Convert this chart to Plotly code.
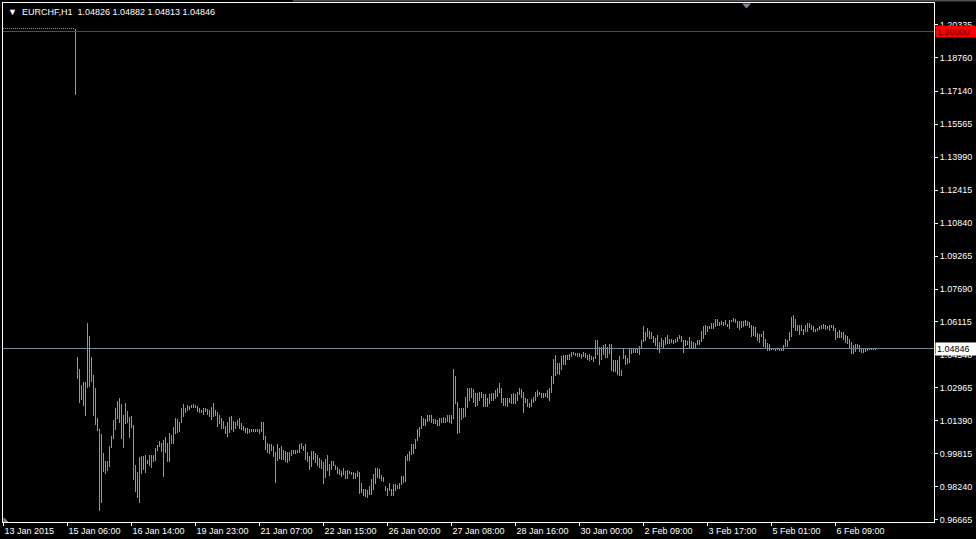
import plotly.graph_objects as go

# ---------------- data (EURCHF, H1 bars) ----------------
tick_labels = ["13 Jan 2015", "15 Jan 06:00", "16 Jan 14:00", "19 Jan 23:00", "21 Jan 07:00",
               "22 Jan 15:00", "26 Jan 00:00", "27 Jan 08:00", "28 Jan 16:00", "30 Jan 00:00",
               "2 Feb 09:00", "3 Feb 17:00", "5 Feb 01:00", "6 Feb 09:00"]
bars_per_label = 32

price_ticks = [1.20335, 1.18760, 1.17140, 1.15565, 1.13990, 1.12415, 1.10840, 1.09265,
               1.07690, 1.06115, 1.04540, 1.02965, 1.01390, 0.99815, 0.98240, 0.96665]

last_ohlc = [1.04826, 1.04882, 1.04813, 1.04846]
hline_level = 1.20000

highs = [1.2015] * 36 + [1.2013] + [
    1.0444, 1.0385, 1.0308, 1.0324, 1.0324, 1.0607, 1.0543, 1.0444, 1.0356, 1.0298,
    1.0151, 1.0102, 1.0078, 0.9986, 0.9948, 0.9948, 1.0020, 1.0068, 1.0145, 1.0199,
    1.0236, 1.0250, 1.0217, 1.0169, 1.0226, 1.0188, 1.0156, 1.0164, 1.0121, 0.9929,
    0.9895, 0.9967, 0.9972, 0.9972, 0.9977, 0.9954, 0.9977, 0.9974, 0.9977, 1.0010,
    1.0025, 1.0044, 1.0034, 1.0046, 1.0063, 1.0034, 1.0081, 1.0073, 1.0111, 1.0151,
    1.0148, 1.0134, 1.0198, 1.0217, 1.0199, 1.0215, 1.0210, 1.0215, 1.0217, 1.0214,
    1.0210, 1.0202, 1.0193, 1.0198, 1.0198, 1.0194, 1.0190, 1.0207, 1.0222, 1.0193,
    1.0183, 1.0169, 1.0154, 1.0140, 1.0116, 1.0132, 1.0159, 1.0164, 1.0140, 1.0135,
    1.0145, 1.0154, 1.0130, 1.0114, 1.0105, 1.0106, 1.0102, 1.0102, 1.0102, 1.0102,
    1.0102, 1.0102, 1.0135, 1.0135, 1.0068, 1.0034, 1.0030, 1.0030, 1.0020, 0.9990,
    1.0030, 1.0007, 1.0020, 1.0001, 0.9993, 0.9991, 0.9991, 1.0001, 1.0001, 1.0001,
    1.0001, 1.0030, 1.0034, 1.0020, 1.0030, 0.9991, 0.9972, 0.9996, 0.9996, 0.9986,
    0.9977, 0.9962, 0.9953, 0.9943, 0.9958, 0.9977, 0.9934, 0.9948, 0.9948, 0.9926,
    0.9919, 0.9910, 0.9900, 0.9914, 0.9900, 0.9905, 0.9900, 0.9895, 0.9895, 0.9890,
    0.9900, 0.9895, 0.9842, 0.9814, 0.9814, 0.9809, 0.9828, 0.9862, 0.9886, 0.9914,
    0.9914, 0.9910, 0.9881, 0.9871, 0.9828, 0.9818, 0.9842, 0.9814, 0.9838, 0.9838,
    0.9833, 0.9842, 0.9876, 0.9876, 0.9969, 0.9982, 0.9996, 1.0030, 1.0030, 1.0054,
    1.0102, 1.0111, 1.0164, 1.0154, 1.0150, 1.0169, 1.0169, 1.0169, 1.0150, 1.0150,
    1.0145, 1.0154, 1.0154, 1.0159, 1.0154, 1.0169, 1.0169, 1.0169, 1.0385, 1.0351,
    1.0231, 1.0198, 1.0198, 1.0202, 1.0255, 1.0298, 1.0298, 1.0298, 1.0289, 1.0270,
    1.0270, 1.0279, 1.0279, 1.0265, 1.0265, 1.0246, 1.0265, 1.0274, 1.0270, 1.0284,
    1.0294, 1.0322, 1.0298, 1.0250, 1.0250, 1.0250, 1.0250, 1.0265, 1.0274, 1.0265,
    1.0279, 1.0294, 1.0289, 1.0279, 1.0246, 1.0241, 1.0222, 1.0241, 1.0255, 1.0279,
    1.0284, 1.0279, 1.0274, 1.0274, 1.0274, 1.0284, 1.0294, 1.0351, 1.0433, 1.0452,
    1.0414, 1.0414, 1.0447, 1.0452, 1.0452, 1.0452, 1.0457, 1.0466, 1.0466, 1.0462,
    1.0462, 1.0462, 1.0457, 1.0466, 1.0462, 1.0452, 1.0457, 1.0447, 1.0442, 1.0524,
    1.0524, 1.0490, 1.0490, 1.0500, 1.0505, 1.0490, 1.0505, 1.0505, 1.0428, 1.0428,
    1.0428, 1.0447, 1.0380, 1.0486, 1.0452, 1.0438, 1.0481, 1.0481, 1.0486, 1.0481,
    1.0481, 1.0495, 1.0524, 1.0591, 1.0562, 1.0582, 1.0567, 1.0562, 1.0543, 1.0534,
    1.0548, 1.0514, 1.0534, 1.0524, 1.0538, 1.0548, 1.0529, 1.0529, 1.0524, 1.0529,
    1.0538, 1.0548, 1.0543, 1.0524, 1.0524, 1.0519, 1.0538, 1.0519, 1.0514, 1.0509,
    1.0524, 1.0524, 1.0567, 1.0591, 1.0596, 1.0591, 1.0591, 1.0606, 1.0606, 1.0625,
    1.0625, 1.0610, 1.0615, 1.0610, 1.0620, 1.0601, 1.0620, 1.0620, 1.0630, 1.0625,
    1.0615, 1.0615, 1.0615, 1.0615, 1.0620, 1.0615, 1.0610, 1.0596, 1.0591, 1.0586,
    1.0558, 1.0553, 1.0553, 1.0567, 1.0529, 1.0509, 1.0505, 1.0486, 1.0486, 1.0486,
    1.0486, 1.0486, 1.0486, 1.0500, 1.0529, 1.0524, 1.0562, 1.0634, 1.0644, 1.0625,
    1.0596, 1.0596, 1.0596, 1.0577, 1.0596, 1.0606, 1.0606, 1.0596, 1.0591, 1.0577,
    1.0582, 1.0591, 1.0596, 1.0601, 1.0596, 1.0591, 1.0596, 1.0596, 1.0596, 1.0582,
    1.0562, 1.0572, 1.0562, 1.0562, 1.0548, 1.0543, 1.0529, 1.0514, 1.0500, 1.0505,
    1.0505, 1.0500, 1.0481, 1.0481, 1.0486, 1.0481, 1.0486, 1.0481, 1.0481, 1.0486,
    1.04882]

lows = [1.2010] * 36 + [1.1695] + [
    1.0337, 1.0223, 1.0239, 1.0212, 1.0164, 1.0295, 1.0300, 1.0324, 1.0164, 1.0121,
    1.0089, 0.9708, 0.9748, 0.9892, 0.9887, 0.9900, 0.9916, 1.0007, 1.0052, 1.0097,
    1.0148, 1.0130, 1.0050, 1.0007, 1.0122, 1.0127, 1.0055, 1.0105, 0.9857, 0.9799,
    0.9772, 0.9748, 0.9886, 0.9903, 0.9890, 0.9934, 0.9922, 0.9914, 0.9940, 0.9948,
    0.9993, 1.0015, 0.9988, 0.9868, 0.9985, 0.9940, 0.9940, 1.0026, 1.0026, 1.0078,
    1.0082, 1.0084, 1.0130, 1.0156, 1.0178, 1.0188, 1.0191, 1.0199, 1.0198, 1.0201,
    1.0180, 1.0175, 1.0175, 1.0167, 1.0180, 1.0169, 1.0156, 1.0145, 1.0159, 1.0162,
    1.0111, 1.0124, 1.0098, 1.0098, 1.0076, 1.0063, 1.0079, 1.0094, 1.0087, 1.0098,
    1.0116, 1.0098, 1.0097, 1.0089, 1.0081, 1.0076, 1.0082, 1.0086, 1.0086, 1.0086,
    1.0087, 1.0076, 1.0086, 1.0049, 1.0001, 0.9986, 0.9982, 0.9994, 0.9967, 0.9842,
    0.9948, 0.9956, 0.9953, 0.9954, 0.9943, 0.9938, 0.9945, 0.9972, 0.9978, 0.9982,
    0.9983, 0.9986, 1.0006, 0.9994, 0.9953, 0.9943, 0.9905, 0.9919, 0.9953, 0.9938,
    0.9924, 0.9914, 0.9910, 0.9838, 0.9866, 0.9900, 0.9876, 0.9903, 0.9921, 0.9905,
    0.9886, 0.9881, 0.9868, 0.9881, 0.9862, 0.9862, 0.9886, 0.9881, 0.9862, 0.9862,
    0.9871, 0.9790, 0.9794, 0.9780, 0.9775, 0.9770, 0.9785, 0.9785, 0.9809, 0.9838,
    0.9866, 0.9862, 0.9852, 0.9847, 0.9804, 0.9780, 0.9804, 0.9780, 0.9780, 0.9804,
    0.9814, 0.9814, 0.9830, 0.9842, 0.9847, 0.9948, 0.9948, 0.9977, 0.9980, 1.0006,
    1.0044, 1.0063, 1.0102, 1.0116, 1.0116, 1.0135, 1.0140, 1.0130, 1.0126, 1.0126,
    1.0116, 1.0116, 1.0130, 1.0130, 1.0130, 1.0135, 1.0130, 1.0126, 1.0150, 1.0217,
    1.0078, 1.0082, 1.0145, 1.0154, 1.0159, 1.0198, 1.0236, 1.0246, 1.0226, 1.0207,
    1.0212, 1.0236, 1.0246, 1.0207, 1.0207, 1.0207, 1.0217, 1.0236, 1.0236, 1.0241,
    1.0255, 1.0274, 1.0226, 1.0212, 1.0212, 1.0207, 1.0226, 1.0217, 1.0217, 1.0217,
    1.0236, 1.0260, 1.0246, 1.0178, 1.0222, 1.0207, 1.0202, 1.0207, 1.0222, 1.0236,
    1.0255, 1.0260, 1.0246, 1.0250, 1.0255, 1.0246, 1.0236, 1.0274, 1.0313, 1.0351,
    1.0361, 1.0356, 1.0380, 1.0404, 1.0404, 1.0428, 1.0428, 1.0442, 1.0452, 1.0447,
    1.0442, 1.0442, 1.0433, 1.0442, 1.0438, 1.0428, 1.0423, 1.0428, 1.0418, 1.0433,
    1.0452, 1.0404, 1.0428, 1.0452, 1.0438, 1.0438, 1.0457, 1.0375, 1.0370, 1.0370,
    1.0356, 1.0351, 1.0351, 1.0433, 1.0404, 1.0409, 1.0414, 1.0457, 1.0462, 1.0462,
    1.0462, 1.0452, 1.0481, 1.0514, 1.0519, 1.0538, 1.0529, 1.0529, 1.0509, 1.0495,
    1.0476, 1.0462, 1.0490, 1.0486, 1.0500, 1.0505, 1.0505, 1.0509, 1.0505, 1.0509,
    1.0514, 1.0529, 1.0514, 1.0462, 1.0495, 1.0500, 1.0486, 1.0481, 1.0486, 1.0486,
    1.0500, 1.0500, 1.0514, 1.0529, 1.0548, 1.0562, 1.0577, 1.0577, 1.0577, 1.0586,
    1.0591, 1.0591, 1.0596, 1.0591, 1.0596, 1.0586, 1.0577, 1.0610, 1.0610, 1.0606,
    1.0582, 1.0572, 1.0582, 1.0586, 1.0591, 1.0591, 1.0582, 1.0538, 1.0543, 1.0538,
    1.0519, 1.0509, 1.0538, 1.0490, 1.0481, 1.0471, 1.0471, 1.0476, 1.0476, 1.0471,
    1.0476, 1.0471, 1.0471, 1.0471, 1.0490, 1.0490, 1.0519, 1.0538, 1.0582, 1.0567,
    1.0567, 1.0548, 1.0567, 1.0548, 1.0562, 1.0562, 1.0582, 1.0572, 1.0562, 1.0562,
    1.0567, 1.0572, 1.0577, 1.0577, 1.0572, 1.0577, 1.0567, 1.0582, 1.0567, 1.0524,
    1.0534, 1.0534, 1.0534, 1.0524, 1.0509, 1.0505, 1.0486, 1.0457, 1.0457, 1.0466,
    1.0481, 1.0466, 1.0462, 1.0462, 1.0466, 1.0471, 1.0476, 1.0476, 1.0476, 1.0476,
    1.04813]

# ---------------- figure ----------------
W, H = 976, 539
ML, MR, MT, MB = 3, 42, 3, 17
PW, PH = W - ML - MR, H - MT - MB

n = min(len(highs), len(lows))
xs = list(range(n))
ranges = [highs[i] - lows[i] for i in range(n)]

GREEN = "#00ff00"
FONT = "Liberation Sans, Arial, sans-serif"


def px(x):
    return (x - ML) / PW


def py(y):
    return 1 - (y - MT) / PH


fig = go.Figure()
fig.add_trace(go.Bar(
    x=xs, y=ranges, base=lows[:n], width=0.5,
    marker=dict(color=GREEN, line=dict(width=0)),
    hoverinfo="skip", showlegend=False))

fig.update_layout(
    width=W, height=H,
    margin=dict(l=ML, r=MR, t=MT, b=MB, pad=0),
    paper_bgcolor="black", plot_bgcolor="black",
    font=dict(family=FONT, size=9, color="white"),
    bargap=0, showlegend=False,
    xaxis=dict(range=[-0.25, 465.25], tickmode="array",
               tickvals=[k * bars_per_label for k in range(len(tick_labels))],
               ticktext=tick_labels, ticks="outside", ticklen=3, tickcolor="white",
               ticklabelposition="outside right",
               showline=True, mirror=True, linecolor="white", linewidth=1,
               showgrid=False, zeroline=False, fixedrange=True,
               tickfont=dict(family=FONT, size=9, color="white")),
    yaxis=dict(range=[0.965522, 1.213624], side="right", tickmode="array",
               tickvals=price_ticks, ticktext=[f"{v:.5f}" for v in price_ticks],
               ticks="outside", ticklen=3, tickcolor="white",
               showline=True, mirror=True, linecolor="white", linewidth=1,
               showgrid=False, zeroline=False, fixedrange=True,
               tickfont=dict(family=FONT, size=9, color="white")),
)

# horizontal lines: manual level (red) and bid line (slate gray)
fig.add_shape(type="line", xref="paper", yref="y", x0=0, x1=1,
              y0=hline_level, y1=hline_level, line=dict(color="#ff0000", width=1))
fig.add_shape(type="line", xref="paper", yref="y", x0=0, x1=1,
              y0=last_ohlc[3], y1=last_ohlc[3], line=dict(color="#778899", width=1))

# chart-shift marker (top) and small marker bottom-left
fig.add_shape(type="path", xref="paper", yref="paper",
              path=f"M {px(742)} {py(3.5)} L {px(751)} {py(3.5)} L {px(746.5)} {py(8.5)} Z",
              fillcolor="#778899", line=dict(width=0))
fig.add_shape(type="path", xref="paper", yref="paper",
              path=f"M {px(3.5)} {py(522)} L {px(3.5)} {py(517)} L {px(8.5)} {py(522)} Z",
              fillcolor="#778899", line=dict(width=0))
# thin grey strip at the very top
fig.add_shape(type="rect", xref="paper", yref="paper",
              x0=px(293), x1=px(976), y0=py(0), y1=py(1.5),
              fillcolor="#505050", line=dict(width=0), layer="above")

# header text
hdr = "\u25bc\u00a0\u00a0EURCHF,H1\u00a0\u00a0" + " ".join(f"{v:.5f}" for v in last_ohlc)
fig.add_annotation(xref="paper", yref="paper", x=px(6), y=py(11.5), xanchor="left",
                   yanchor="middle", text=hdr, showarrow=False,
                   font=dict(family=FONT, size=9, color="white"))

# price labels on the right scale
fig.add_annotation(xref="paper", yref="y", x=1, y=last_ohlc[3], xanchor="left", yanchor="middle",
                   xshift=1, text=f"{last_ohlc[3]:.5f}", showarrow=False, bgcolor="white",
                   width=38, height=10, align="left", borderpad=1,
                   font=dict(family=FONT, size=9, color="black"))
fig.add_annotation(xref="paper", yref="y", x=1, y=hline_level, xanchor="left", yanchor="middle",
                   xshift=1, text=f"{hline_level:.5f}", showarrow=False, bgcolor="#ff0000",
                   width=38, height=9, align="left", borderpad=1,
                   font=dict(family=FONT, size=9, color="#500000"))

fig.write_html("out.html",
               config={"displayModeBar": False, "staticPlot": True},
               post_script="document.body.style.margin='0';document.body.style.padding='0';"
                           "document.body.style.overflow='hidden';")
